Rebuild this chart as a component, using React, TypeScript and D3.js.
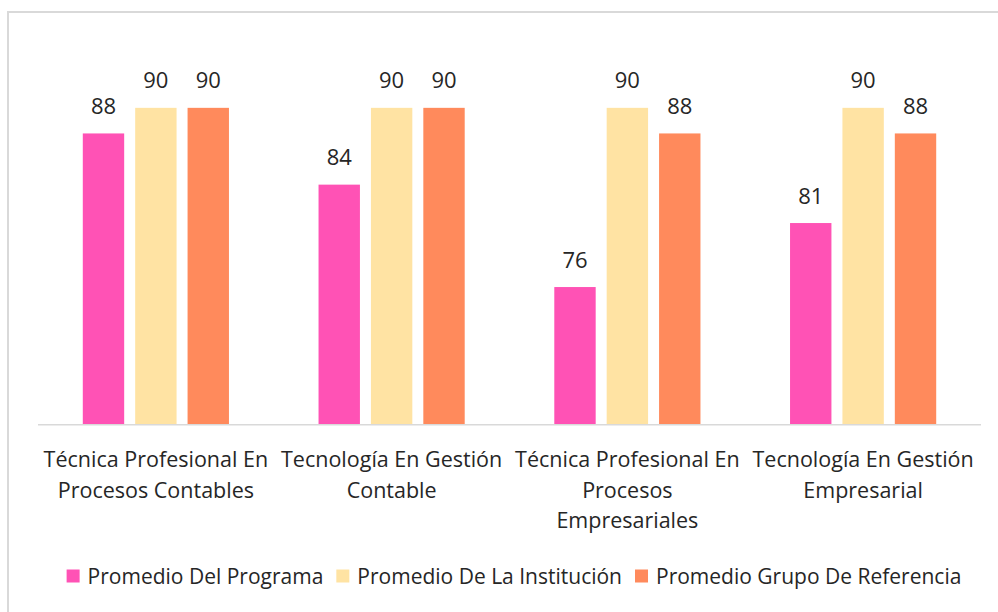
import React, { useEffect, useRef } from "react";
import * as d3 from "d3";

const categories = [
  "Técnica Profesional En Procesos Contables",
  "Tecnología En Gestión Contable",
  "Técnica Profesional En Procesos Empresariales",
  "Tecnología En Gestión Empresarial",
];
const categoryLines = [
  ["Técnica Profesional En", "Procesos Contables"],
  ["Tecnología En Gestión", "Contable"],
  ["Técnica Profesional En", "Procesos", "Empresariales"],
  ["Tecnología En Gestión", "Empresarial"],
];
const seriesNames = [
  "Promedio Del Programa",
  "Promedio De La Institución",
  "Promedio Grupo De Referencia",
];
const seriesColors = ["#FF52B5", "#FFE3A3", "#FF8A5C"];
const programa = [88, 84, 76, 81];
const institucion = [90, 90, 90, 90];
const referencia = [90, 90, 88, 88];
const seriesValues = [programa, institucion, referencia];
const yDomain = [65.3, 95.3];

const W = 998;
const H = 612;
const FONT = "'Open Sans', sans-serif";
const TEXT = "#262626";

export default function App() {
  const ref = useRef<SVGSVGElement>(null);
  useEffect(() => {
    const svg = d3.select(ref.current);
    svg.selectAll("*").remove();

    svg.append("rect").attr("x", 0).attr("y", 0).attr("width", W).attr("height", H).attr("fill", "#fff");
    svg
      .append("rect")
      .attr("x", 8)
      .attr("y", 12)
      .attr("width", W + 20)
      .attr("height", H + 20)
      .attr("fill", "#fff")
      .attr("stroke", "#d9d9d9")
      .attr("stroke-width", 2);

    const x0 = d3
      .scaleBand<string>()
      .domain(categories)
      .range([38, 981])
      .paddingInner(0.38)
      .paddingOuter(0.19);
    const x1 = d3
      .scaleBand<string>()
      .domain(seriesNames)
      .range([0, x0.bandwidth()])
      .paddingInner(0.21);
    const y = d3.scaleLinear().domain(yDomain).range([424, 40]);

    const groups = svg
      .append("g")
      .selectAll("g")
      .data(categories)
      .join("g")
      .attr("transform", (d) => `translate(${x0(d)},0)`);

    groups.each(function (cat, ci) {
      const g = d3.select(this);
      seriesNames.forEach((s, si) => {
        const v = seriesValues[si][ci];
        g.append("rect")
          .attr("x", x1(s)!)
          .attr("y", y(v))
          .attr("width", x1.bandwidth())
          .attr("height", y(yDomain[0]) - y(v))
          .attr("fill", seriesColors[si]);
        g.append("text")
          .attr("x", x1(s)! + x1.bandwidth() / 2)
          .attr("y", y(v) - 19.5)
          .attr("text-anchor", "middle")
          .attr("font-family", FONT)
          .attr("font-size", 22)
          .attr("fill", TEXT)
          .text(d3.format("d")(v));
      });
    });

    svg
      .append("line")
      .attr("x1", 38)
      .attr("x2", 981)
      .attr("y1", 424.75)
      .attr("y2", 424.75)
      .attr("stroke", "#d9d9d9")
      .attr("stroke-width", 1.5);

    categories.forEach((cat, ci) => {
      const cx = x0(cat)! + x0.bandwidth() / 2;
      const t = svg
        .append("text")
        .attr("text-anchor", "middle")
        .attr("font-family", FONT)
        .attr("font-size", 21.5)
        .attr("fill", TEXT);
      categoryLines[ci].forEach((line, li) => {
        t.append("tspan").attr("x", cx).attr("y", 467 + li * 30.7).text(line);
      });
    });

    // legend
    const lg = svg.append("g");
    const items = seriesNames.map((s, i) => {
      const g = lg.append("g");
      g.append("rect").attr("x", 0).attr("y", 569.5).attr("width", 13).attr("height", 13).attr("fill", seriesColors[i]);
      const t = g
        .append("text")
        .attr("x", 21)
        .attr("y", 583.5)
        .attr("font-family", FONT)
        .attr("font-size", 21)
        .attr("fill", TEXT)
        .text(s);
      const w = (t.node() as SVGTextElement).getComputedTextLength();
      return { g, w: 21 + w };
    });
    const gap = 13;
    const total = d3.sum(items, (d) => d.w) + gap * (items.length - 1);
    let cx = 514 - total / 2;
    items.forEach((it) => {
      it.g.attr("transform", `translate(${cx},0)`);
      cx += it.w + gap;
    });
  }, []);
  return (
    <svg
      ref={ref}
      width={W}
      height={H}
      style={{ position: "absolute", left: 0, top: 0, display: "block" }}
    />
  );
}
